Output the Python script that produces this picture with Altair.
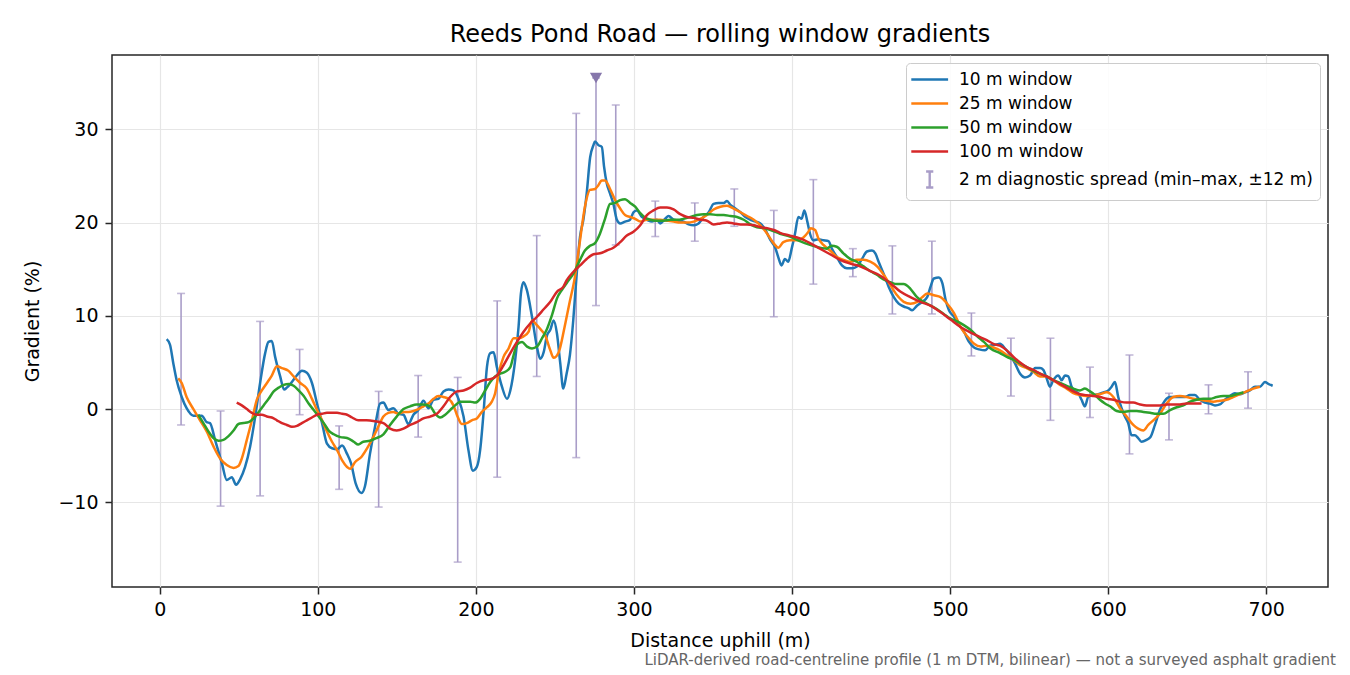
import altair as alt
import pandas as pd


# --- rolling-window gradient series (distance m, gradient %) ---
W10_X = [4.4, 6.5, 8.6, 10.7, 13.9, 17.0, 21.3, 26.6, 29.7, 31.8, 35.0, 39.3, 42.4, 45.6, 48.3, 50.9,
         54.0, 57.2, 60.4, 63.5, 66.7, 68.8, 70.9, 73.0, 76.2, 78.7, 80.4, 83.6, 86.7, 90.0, 93.1, 96.3,
         99.5, 102.7, 105.8, 109.0, 112.2, 115.4, 118.5, 121.0, 124.0, 127.7, 129.8, 133.0, 136.2, 139.4,
         141.5, 144.6, 147.8, 151.0, 154.2, 157.3, 160.5, 163.6, 166.8, 170.0, 173.2, 176.3, 179.5, 182.7,
         185.8, 189.0, 192.2, 195.3, 198.1, 200.6, 202.7, 204.8, 207.0, 209.1, 211.2, 213.3, 216.5, 219.7,
         221.8, 224.9, 227.0, 228.5, 230.1, 232.2, 235.5, 238.6, 240.7, 242.9, 245.0, 247.1, 249.2, 251.3,
         253.4, 255.3, 257.4, 259.5, 261.6, 263.8, 265.9, 268.0, 270.1, 272.3, 274.4, 275.4, 277.5, 279.7,
         281.1, 282.8, 284.9, 287.0, 289.2, 291.3, 294.4, 297.6, 299.7, 301.9, 305.0, 308.2, 311.4, 314.5,
         316.6, 319.8, 321.9, 325.1, 328.3, 331.4, 334.6, 337.8, 340.9, 344.1, 347.3, 350.4, 353.6, 356.8,
         358.9, 361.0, 364.2, 367.4, 370.5, 373.7, 376.9, 380.0, 383.2, 386.4, 389.4, 391.3, 393.4, 395.5,
         397.6, 399.8, 401.9, 404.0, 406.1, 407.8, 409.7, 411.4, 413.5, 416.7, 419.9, 423.1, 425.2, 428.4,
         431.6, 434.7, 437.9, 441.1, 444.3, 447.4, 450.6, 452.7, 454.8, 458.0, 461.2, 464.4, 467.5, 470.7,
         473.9, 476.0, 479.2, 482.4, 485.5, 487.6, 489.8, 492.9, 495.1, 497.2, 499.3, 502.5, 505.7, 508.8,
         512.0, 515.2, 518.4, 522.1, 525.3, 528.5, 531.6, 534.8, 538.0, 541.1, 544.3, 547.4, 550.6, 553.8,
         556.9, 559.0, 561.1, 563.2, 565.3, 568.5, 570.6, 572.7, 574.8, 576.9, 579.0, 581.1, 583.2, 585.3,
         587.4, 590.6, 593.8, 597.0, 600.1, 602.2, 604.3, 606.4, 608.5, 610.6, 612.7, 614.8, 616.9, 619.0,
         621.1, 624.3, 626.8, 629.6, 632.7, 635.9, 639.1, 642.2, 645.4, 648.6, 651.7, 654.9, 658.1, 661.2,
         664.4, 667.6, 670.7, 673.9, 677.1, 680.2, 683.4, 686.6, 689.7, 692.9, 696.1, 699.2, 701.3, 704.1]
W10_Y = [7.5, 6.9, 4.9, 3.1, 1.3, 0.1, -0.7, -0.7, -1.4, -1.5, -3.3, -5.8, -7.6, -7.3, -8.1, -7.5,
         -6.2, -4.0, -0.8, 2.8, 6.0, 7.2, 7.3, 5.6, 3.5, 2.1, 2.3, 2.9, 3.6, 4.1, 3.9, 2.8,
         0.6, -1.5, -3.7, -4.2, -4.3, -3.9, -4.8, -5.8, -8.0, -9.0, -8.3, -4.8, -1.9, 0.6,
         0.7, -0.1, 0.1, -0.5, -0.6, -1.6, -0.6, -0.1, 0.9, 0.1, 1.0, 1.1, 1.9, 2.1,
         2.0, 1.1, -0.8, -4.4, -6.6, -6.2, -4.4, -0.5, 4.5, 6.0, 6.1, 4.5, 2.4, 1.1,
         2.0, 5.3, 8.8, 12.4, 13.6, 12.8, 9.9, 6.7, 5.4, 6.1, 7.9, 8.5, 9.5, 8.1,
         4.9, 2.2, 3.8, 5.8, 9.5, 14.5, 18.5, 20.3, 23.1, 27.0, 28.3, 28.7, 28.3, 28.1,
         26.0, 24.2, 23.1, 22.0, 20.3, 19.9, 20.1, 20.3, 21.1, 21.3, 20.6, 20.3, 20.1, 20.3,
         19.9, 20.4, 20.7, 20.3, 20.2, 20.1, 19.8, 19.7, 19.9, 20.6, 21.1, 22.0, 22.1, 22.1,
         22.3, 21.9, 21.5, 21.1, 20.6, 20.3, 20.1, 19.9, 19.2, 18.1, 17.3, 16.3, 15.4, 16.1,
         15.8, 17.2, 18.8, 20.6, 20.4, 21.3, 20.1, 18.8, 18.1, 18.2, 18.1, 18.0, 17.2, 16.3,
         15.4, 15.1, 15.1, 15.3, 16.1, 16.9, 17.0, 16.7, 15.8, 14.5, 13.1, 12.0, 11.3, 11.0,
         10.8, 10.6, 11.1, 11.5, 12.0, 13.1, 14.0, 14.1, 13.5, 11.7, 10.6, 9.9, 9.0, 8.3,
         7.2, 6.6, 6.4, 6.3, 6.8, 6.9, 7.0, 6.5, 5.8, 4.9, 3.8, 3.4, 3.6, 4.4,
         4.4, 4.2, 3.3, 2.4, 3.1, 3.6, 3.1, 3.6, 3.5, 2.4, 1.9, 1.7, 1.0, 0.3,
         1.3, 1.5, 1.6, 1.8, 2.0, 2.4, 2.9, 1.3, 0.1, -0.8, -1.5, -2.8, -2.8, -3.1,
         -3.5, -3.3, -3.0, -1.7, -0.1, 0.9, 1.3, 1.3, 1.3, 1.3, 1.5, 1.5, 1.0, 0.7,
         0.6, 0.4, 0.5, 1.0, 1.4, 1.7, 1.6, 1.8, 2.0, 2.4, 2.4, 2.9, 2.7, 2.5]

W25_X = [11.7, 13.9, 17.0, 21.3, 25.5, 29.7, 34.0, 38.2, 42.4, 46.7, 49.8, 51.9, 55.1, 58.3, 61.4, 64.6,
         67.8, 70.9, 74.1, 77.3, 81.5, 84.7, 88.9, 93.1, 96.3, 99.5, 102.7, 105.8, 109.0, 112.2, 115.4, 118.5,
         120.5, 123.5, 127.7, 131.9, 135.1, 138.2, 141.5, 144.6, 147.8, 151.0, 154.2, 157.3, 160.5, 163.6,
         166.8, 170.0, 173.2, 176.3, 179.5, 182.7, 185.8, 188.4, 191.1, 194.3, 197.4, 200.6, 203.8, 207.0,
         210.1, 212.2, 214.4, 217.5, 220.7, 223.9, 227.0, 230.2, 233.4, 235.5, 237.6, 240.7, 243.9, 247.1,
         249.2, 252.4, 256.0, 259.0, 262.7, 265.9, 269.0, 272.2, 275.4, 277.5, 279.6, 281.7, 284.9, 288.1,
         291.3, 294.4, 297.6, 300.8, 304.0, 308.2, 312.4, 316.6, 320.8, 325.1, 329.3, 333.5, 337.8, 342.0,
         346.2, 350.4, 354.7, 358.9, 363.1, 367.4, 371.6, 375.8, 380.0, 384.3, 387.4, 389.2, 391.3, 394.5,
         398.7, 402.9, 407.2, 410.3, 411.8, 414.6, 416.7, 419.9, 424.1, 428.4, 432.6, 436.8, 441.1, 445.3,
         449.5, 453.8, 458.0, 462.2, 466.5, 470.7, 474.9, 479.2, 482.4, 485.5, 489.8, 494.0, 498.2, 502.5,
         506.7, 510.9, 515.2, 519.4, 523.2, 527.4, 531.6, 535.9, 540.1, 544.3, 548.5, 552.7, 556.9, 561.1,
         565.3, 569.6, 573.8, 578.0, 582.2, 586.4, 590.6, 594.8, 599.0, 603.3, 607.5, 611.7, 615.9, 619.0,
         622.2, 625.4, 628.6, 632.8, 637.0, 641.2, 645.4, 649.6, 653.8, 658.1, 662.3, 666.5, 670.7, 674.9,
         679.1, 683.4, 687.6, 691.8, 696.0]
W25_Y = [3.3, 2.8, 1.3, 0.0, -1.2, -2.4, -4.0, -5.3, -6.0, -6.3, -6.1, -5.3, -3.3, -1.2, 1.0, 2.0,
         2.8, 3.6, 4.6, 4.4, 4.1, 3.5, 2.8, 2.2, 1.1, -0.1, -1.2, -2.4, -3.5, -4.4, -5.5, -6.2,
         -6.4, -5.7, -5.1, -4.0, -3.0, -1.9, -0.8, -0.4, -0.3, -0.5, -0.3, -0.3, -0.2, 0.0,
         0.3, 0.6, 1.1, 1.4, 1.3, 1.1, 0.4, -0.8, -1.6, -1.5, -1.2, -1.0, -0.3, 0.2,
         0.8, 1.7, 3.8, 5.6, 6.5, 7.6, 7.6, 7.8, 8.3, 9.5, 9.2, 8.6, 7.9, 6.3,
         5.5, 6.1, 8.7, 11.2, 14.2, 18.1, 21.7, 23.5, 23.6, 24.0, 24.5, 24.5, 23.6, 22.4,
         21.5, 20.8, 20.6, 20.4, 20.1, 20.3, 20.3, 20.3, 20.2, 20.1, 20.0, 20.0, 20.1, 20.4,
         20.8, 21.4, 21.7, 21.8, 21.5, 21.1, 20.7, 20.3, 19.7, 18.8, 18.0, 17.6, 17.3, 17.9,
         18.1, 18.1, 18.4, 19.0, 19.4, 19.2, 18.3, 17.6, 17.0, 16.3, 16.0, 15.8, 16.0, 16.0,
         15.8, 15.3, 14.4, 13.3, 12.2, 11.5, 11.3, 11.5, 12.0, 12.4, 12.2, 12.0, 11.3, 10.3,
         8.8, 7.8, 7.0, 6.7, 6.8, 6.6, 6.3, 5.8, 5.3, 4.7, 4.4, 4.0, 3.5, 3.5,
         3.1, 2.6, 2.2, 1.7, 1.5, 1.4, 1.5, 1.6, 1.8, 1.3, 0.1, -0.8, -1.7, -2.1,
         -2.3, -1.7, -1.2, -0.5, 0.6, 1.3, 1.4, 1.3, 1.1, 1.0, 0.9, 0.8, 0.9, 1.0,
         1.3, 1.6, 1.9, 2.2, 2.4]

W50_X = [24.4, 27.6, 30.8, 34.0, 37.1, 40.3, 43.5, 46.7, 49.8, 53.0, 56.2, 59.4, 62.6, 65.7, 68.9, 72.1,
         75.3, 78.4, 81.6, 84.7, 87.9, 91.1, 94.2, 97.4, 100.6, 103.8, 106.9, 110.1, 114.3, 118.5, 122.8, 125.6,
         128.8, 133.0, 137.2, 141.5, 145.7, 149.9, 154.2, 158.4, 162.6, 166.8, 171.1, 174.3, 177.4, 180.6,
         183.7, 186.9, 190.1, 193.2, 196.4, 199.6, 202.7, 205.9, 209.1, 212.2, 215.4, 218.6, 221.8, 223.9,
         226.0, 229.2, 232.4, 235.5, 238.7, 241.9, 245.0, 248.2, 251.4, 254.5, 257.4, 261.6, 265.9, 269.0,
         272.2, 275.4, 278.5, 281.7, 284.9, 288.1, 291.3, 294.4, 297.6, 300.8, 304.0, 307.2, 310.3, 314.5,
         318.8, 323.0, 327.2, 331.4, 335.7, 339.9, 344.1, 348.3, 352.6, 356.8, 361.0, 365.2, 369.5, 373.7,
         377.9, 382.2, 386.4, 392.4, 398.7, 405.0, 411.4, 417.7, 421.9, 425.1, 428.3, 432.5, 436.8, 441.0,
         445.2, 449.5, 453.7, 457.9, 462.2, 466.4, 470.6, 474.9, 479.1, 483.3, 487.6, 491.8, 496.0, 500.3,
         504.5, 508.7, 512.9, 517.2, 521.4, 525.6, 531.6, 535.9, 540.1, 544.3, 548.5, 552.7, 556.9, 561.1,
         565.3, 569.6, 573.8, 578.0, 582.2, 585.3, 588.5, 591.7, 594.8, 598.0, 601.2, 605.4, 609.6, 613.8,
         618.1, 622.3, 626.5, 630.7, 634.9, 639.2, 643.4, 647.6, 651.8, 656.0, 660.3, 664.5, 668.7, 672.9,
         677.1, 681.4, 685.6]
W50_Y = [-0.6, -1.5, -2.4, -3.1, -3.4, -3.3, -2.9, -2.3, -1.6, -1.5, -1.4, -1.0, -0.3, 0.4, 1.1, 1.9,
         2.3, 2.6, 2.7, 2.5, 2.0, 1.4, 0.6, -0.1, -0.8, -1.5, -2.3, -2.7, -3.0, -3.1, -3.5, -3.8,
         -3.5, -3.4, -3.1, -2.7, -1.7, -0.8, 0.0, 0.3, 0.5, 0.5, 0.3, -0.5, -0.9, -0.6,
         -0.1, 0.4, 0.8, 0.8, 0.8, 0.7, 1.1, 2.0, 2.9, 3.5, 3.8, 4.0, 4.5, 5.8,
         6.9, 7.2, 6.7, 6.5, 6.7, 7.6, 8.6, 10.1, 11.9, 12.8, 13.5, 14.5, 16.0, 17.0,
         17.5, 17.8, 18.8, 20.4, 22.0, 22.1, 22.4, 22.5, 22.1, 21.7, 21.0, 20.5, 20.3, 20.2,
         20.2, 20.3, 20.3, 20.4, 20.6, 20.8, 20.9, 20.9, 20.8, 20.8, 20.7, 20.6, 20.3, 19.8,
         19.5, 19.4, 19.2, 18.8, 18.5, 18.0, 17.6, 17.3, 17.2, 17.5, 17.4, 16.7, 16.1, 15.8,
         15.3, 14.8, 14.4, 13.9, 13.6, 13.4, 13.4, 12.9, 12.0, 11.5, 11.1, 10.7, 10.2, 9.7,
         9.4, 9.0, 8.5, 7.8, 7.2, 6.5, 6.0, 5.6, 5.3, 4.9, 4.5, 4.1, 3.8, 3.5,
         3.1, 2.8, 2.5, 2.2, 2.0, 2.2, 1.9, 1.5, 1.0, 0.6, 0.3, -0.2, -0.3, -0.2,
         -0.2, -0.3, -0.4, -0.5, -0.5, -0.1, 0.2, 0.4, 0.8, 1.0, 1.1, 1.1, 1.3, 1.4,
         1.4, 1.6, 1.8]

W100_X = [48.7, 51.9, 55.1, 58.3, 61.4, 64.6, 67.8, 70.9, 74.1, 77.3, 80.4, 83.6, 86.8, 89.9, 93.1, 96.3,
          99.5, 102.7, 105.8, 109.0, 112.2, 115.4, 118.5, 121.7, 125.6, 130.8, 136.2, 141.5, 145.7, 149.9,
          154.2, 158.4, 162.6, 166.8, 171.1, 175.3, 179.5, 183.7, 188.0, 192.2, 196.4, 200.6, 204.8, 209.1,
          213.3, 217.5, 221.8, 226.0, 230.2, 234.5, 238.7, 242.9, 247.1, 251.4, 255.3, 257.4, 261.6, 265.9,
          270.1, 274.4, 278.6, 282.8, 287.0, 291.3, 295.5, 299.7, 304.0, 308.2, 312.4, 316.6, 320.9, 325.1,
          329.3, 333.5, 337.8, 342.0, 346.2, 350.4, 354.7, 358.9, 363.1, 367.4, 371.6, 375.8, 380.0, 384.3,
          388.5, 392.4, 398.7, 405.0, 411.4, 417.7, 424.1, 430.4, 436.8, 443.1, 449.5, 455.8, 462.2, 468.5,
          474.9, 481.2, 487.6, 493.9, 500.3, 506.6, 513.0, 519.3, 523.2, 527.4, 531.6, 535.9, 540.1, 544.3,
          548.5, 552.7, 556.9, 561.1, 565.3, 569.6, 573.8, 578.0, 582.2, 586.4, 590.6, 594.8, 599.0, 603.3,
          607.5, 611.7, 615.9, 620.2, 624.4, 628.6, 632.8, 637.0, 641.2, 645.4, 649.6, 653.8, 659.1]
W100_Y = [0.7, 0.4, 0.0, -0.4, -0.6, -0.6, -0.8, -0.9, -1.2, -1.5, -1.7, -1.9, -1.8, -1.5, -1.2, -0.9,
          -0.6, -0.5, -0.4, -0.4, -0.4, -0.5, -0.6, -0.9, -1.2, -1.2, -1.3, -1.5, -2.1, -2.3,
          -2.1, -1.7, -1.4, -1.0, -0.8, -0.5, 0.3, 1.3, 1.9, 2.0, 2.3, 2.8, 3.1, 3.2,
          3.6, 4.7, 6.0, 7.2, 8.3, 9.2, 9.9, 10.7, 11.5, 12.6, 13.1, 13.8, 14.7, 15.4,
          16.1, 16.6, 16.7, 17.0, 17.3, 17.9, 18.6, 19.0, 19.7, 20.8, 21.3, 21.6, 21.6, 21.4,
          20.9, 20.6, 20.5, 20.3, 20.2, 19.8, 19.9, 20.0, 19.9, 19.8, 19.8, 19.7, 19.5, 19.4,
          19.2, 18.9, 18.6, 18.3, 17.8, 17.2, 16.6, 16.0, 15.6, 15.3, 14.8, 14.3, 13.5, 12.6,
          12.0, 11.5, 11.1, 10.4, 9.6, 8.8, 8.2, 7.7, 7.4, 7.0, 6.8, 6.3, 5.6, 5.0,
          4.5, 4.2, 3.8, 3.5, 3.1, 2.7, 2.3, 1.9, 1.6, 1.5, 1.4, 1.3, 1.1, 1.0,
          0.8, 0.7, 0.7, 0.5, 0.4, 0.4, 0.4, 0.5, 0.5, 0.5, 0.6, 0.6, 0.6]

# --- 2 m diagnostic spread (min/max within +-12 m) ---
ERR_X = [13.5, 38.5, 63.5, 88.5, 113.5, 138.5, 163.5, 188.5, 213.5, 238.5, 263.5, 276.0, 288.5, 313.5,
         338.5, 363.5, 388.5, 413.5, 438.5, 463.5, 488.5, 513.5, 538.5, 563.5, 588.5, 613.5, 638.5, 663.5, 688.5]
ERR_LO = [-1.7, -10.4, -9.3, -0.6, -8.6, -10.5, -3.0, -16.4, -7.3, 3.5, -5.2, 11.1, 17.6, 18.5,
          18.0, 19.6, 9.9, 13.4, 14.2, 10.2, 10.2, 5.7, 1.4, -1.2, -0.9, -4.8, -3.3, -0.5, 0.1]
ERR_HI = [12.4, -0.2, 9.4, 6.4, -1.8, 1.9, 3.6, 3.4, 11.6, 18.6, 31.7, 35.5, 32.6, 22.3,
          22.1, 23.6, 21.3, 24.6, 17.2, 17.5, 18.0, 10.3, 7.6, 7.6, 4.5, 5.8, 1.7, 2.6, 4.0]

PEAK_X = [276.0]
PEAK_Y = [35.5]

SERIES = ["10 m window", "25 m window", "50 m window", "100 m window"]
SPREAD = "2 m diagnostic spread (min\u2013max, \u00b112 m)"
COLORS = ["#1f77b4", "#ff7f0e", "#2ca02c", "#d62728"]
SPREAD_COLOR = "#a99dc8"
PEAK_COLOR = "#8677ab"
FONT = "DejaVu Sans"

# legend glyphs (unit = half the symbol side), shifted right so they sit inside the frame
LINE_PATH = "M-1.4,0L3.2,0"
I_PATH = "M0.9,-1L0.9,1M0.45,-1L1.35,-1M0.45,1L1.35,1"

x_enc = alt.X("distance:Q", title="Distance uphill (m)",
              scale=alt.Scale(domain=[-30.2, 739.1], nice=False, zero=False),
              axis=alt.Axis(values=[0, 100, 200, 300, 400, 500, 600, 700], format="d"))
y_enc = alt.Y("gradient:Q", title="Gradient (%)",
              scale=alt.Scale(domain=[-19.07, 37.96], nice=False, zero=False),
              axis=alt.Axis(values=[-10, 0, 10, 20, 30], format="d"))


def line_layer(xs, ys, color):
    df = pd.DataFrame({"distance": xs, "gradient": ys})
    return alt.Chart(df).mark_line(color=color, strokeWidth=2.5, interpolate="monotone").encode(
        x=x_enc, y=y_enc)


err_df = pd.DataFrame({"distance": ERR_X, "gradient": ERR_LO, "hi": ERR_HI})
err_rule = alt.Chart(err_df).mark_rule(color=SPREAD_COLOR, strokeWidth=1.6).encode(
    x=x_enc, y=y_enc, y2="hi:Q")
err_lo_cap = alt.Chart(err_df).mark_tick(color=SPREAD_COLOR, orient="horizontal", size=8, thickness=1.6).encode(
    x=x_enc, y=y_enc)
err_hi_cap = alt.Chart(err_df).mark_tick(color=SPREAD_COLOR, orient="horizontal", size=8, thickness=1.6).encode(
    x=x_enc, y=alt.Y("hi:Q"))

peak_df = pd.DataFrame({"distance": PEAK_X, "gradient": PEAK_Y})
peak = alt.Chart(peak_df).mark_point(shape="triangle-down", filled=True, size=150,
                                     color=PEAK_COLOR, opacity=1).encode(x=x_enc, y=y_enc)

legend_df = pd.DataFrame({"series": SERIES + [SPREAD]})
legend_opts = alt.Legend(
    title=None, orient="top-right", offset=8, padding=7, rowPadding=6,
    labelFont=FONT, labelFontSize=17, labelColor="black", labelLimit=600, labelOffset=27,
    symbolSize=256, symbolStrokeWidth=2.4, symbolOpacity=1,
    strokeColor="#cccccc", fillColor="rgba(255,255,255,0.85)", cornerRadius=4,
)
legend_layer = alt.Chart(legend_df).mark_point(filled=False, opacity=1).encode(
    x=alt.value(0), y=alt.value(0),
    color=alt.Color("series:N", scale=alt.Scale(domain=SERIES + [SPREAD], range=COLORS + [SPREAD_COLOR]),
                    legend=legend_opts),
    shape=alt.Shape("series:N", scale=alt.Scale(domain=SERIES + [SPREAD],
                                                range=[LINE_PATH] * 4 + [I_PATH]),
                    legend=legend_opts),
).transform_filter("false")

note = alt.Chart(pd.DataFrame({"n": [0]})).mark_text(
    align="right", baseline="middle", fontSize=15, font=FONT, color="#666666",
).encode(
    x=alt.value(1224), y=alt.value(605),
    text=alt.value("LiDAR-derived road-centreline profile (1 m DTM, bilinear) \u2014 not a surveyed asphalt gradient"),
)

chart = alt.layer(
    err_rule, err_lo_cap, err_hi_cap,
    line_layer(W10_X, W10_Y, COLORS[0]),
    line_layer(W25_X, W25_Y, COLORS[1]),
    line_layer(W50_X, W50_Y, COLORS[2]),
    line_layer(W100_X, W100_Y, COLORS[3]),
    peak, legend_layer, note,
).properties(
    width=1216, height=532,
    autosize=alt.AutoSizeParams(type="none"),
    padding={"left": 104, "top": 47, "right": 12, "bottom": 86},
    title=alt.TitleParams("Reeds Pond Road \u2014 rolling window gradients", font=FONT, fontSize=24,
                          fontWeight="normal", color="black", anchor="middle", frame="group", offset=8),
).configure_view(
    stroke="#262626", strokeWidth=1.5,
).configure_axis(
    labelFont=FONT, labelFontSize=19, labelColor="black",
    titleFont=FONT, titleFontSize=19, titleFontWeight="normal", titleColor="black",
    tickColor="#262626", tickSize=7, tickWidth=1.5, domain=False,
    grid=True, gridColor="#e6e6e6", gridWidth=1.2,
).configure_axisX(
    labelPadding=6, titlePadding=12,
).configure_axisY(
    labelPadding=7, titlePadding=15,
)

chart.save("out.html", embed_options={"renderer": "svg", "actions": False})
